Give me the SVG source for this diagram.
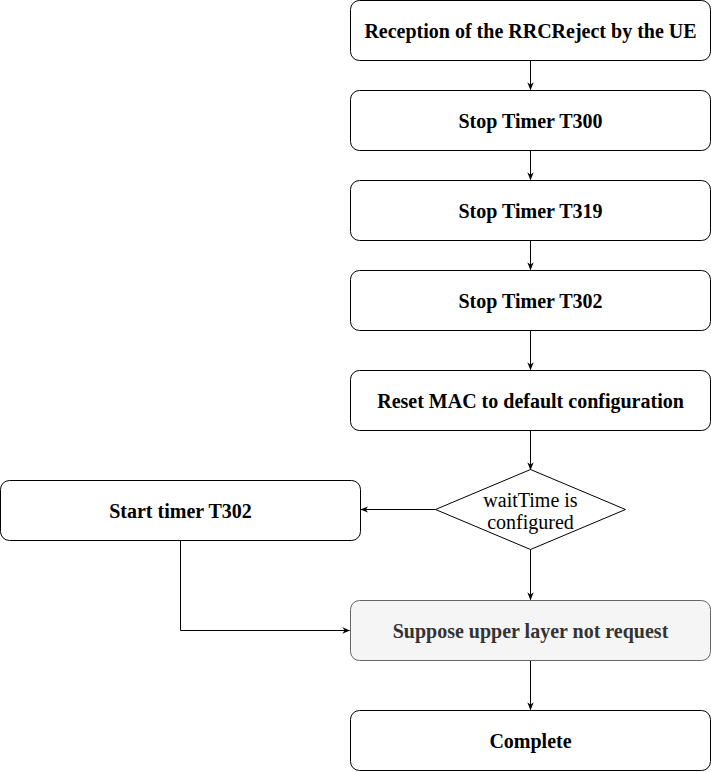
<svg xmlns="http://www.w3.org/2000/svg" width="711" height="772" viewBox="0 0 711 772">
<defs>
<marker id="ah" viewBox="0 0 10 10" refX="9" refY="5" markerWidth="8" markerHeight="8" markerUnits="userSpaceOnUse" orient="auto">
<path d="M0,1 L10,5 L0,9 L3,5 Z" fill="#000"/>
</marker>
<style>
.box{fill:#fff;stroke:#000;stroke-width:1}
.grey{fill:#f5f5f5;stroke:#666;stroke-width:1}
.t{font-family:"Liberation Serif","Times New Roman",serif;font-size:20px;font-weight:bold;text-anchor:middle;fill:#000}
.tg{fill:#333}
.td{font-family:"Liberation Serif","Times New Roman",serif;font-size:20px;text-anchor:middle;fill:#000}
.c{fill:none;stroke:#000;stroke-width:1;marker-end:url(#ah)}
</style>
</defs>
<g id="connectors">
<path class="c" d="M530.5,60.5 V89.5"/>
<path class="c" d="M530.5,150.5 V179.5"/>
<path class="c" d="M530.5,240.5 V269.5"/>
<path class="c" d="M530.5,330.5 V369.5"/>
<path class="c" d="M530.5,430.5 V469.5"/>
<path class="c" d="M435.5,509.5 H361"/>
<path class="c" d="M530.5,549.5 V599.5"/>
<path class="c" d="M180.5,540.5 V630.5 H349.5"/>
<path class="c" d="M530.5,660.5 V709.5"/>
</g>
<g id="n1"><rect class="box" x="350.5" y="0.5" width="360" height="60" rx="9"/><text class="t" x="530.5" y="38">Reception of the RRCReject by the UE</text></g>
<g id="n2"><rect class="box" x="350.5" y="90.5" width="360" height="60" rx="9"/><text class="t" x="530.5" y="128">Stop Timer T300</text></g>
<g id="n3"><rect class="box" x="350.5" y="180.5" width="360" height="60" rx="9"/><text class="t" x="530.5" y="218">Stop Timer T319</text></g>
<g id="n4"><rect class="box" x="350.5" y="270.5" width="360" height="60" rx="9"/><text class="t" x="530.5" y="308">Stop Timer T302</text></g>
<g id="n5"><rect class="box" x="350.5" y="370.5" width="360" height="60" rx="9"/><text class="t" x="530.5" y="408">Reset MAC to default configuration</text></g>
<g id="n6"><path class="box" d="M530.5,469.5 L625.5,509.5 L530.5,549.5 L435.5,509.5 Z"/><text class="td" x="530.5" y="507">waitTime is</text><text class="td" x="530.5" y="529">configured</text></g>
<g id="n7"><rect class="box" x="0.5" y="480.5" width="360" height="60" rx="9"/><text class="t" x="180.5" y="518">Start timer T302</text></g>
<g id="n8"><rect class="grey" x="350.5" y="600.5" width="360" height="60" rx="9"/><text class="t tg" x="530.5" y="638">Suppose upper layer not request</text></g>
<g id="n9"><rect class="box" x="350.5" y="710.5" width="360" height="60" rx="9"/><text class="t" x="530.5" y="748">Complete</text></g>
</svg>
